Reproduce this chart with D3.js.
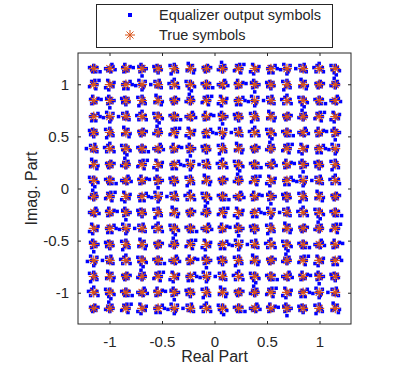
<!DOCTYPE html>
<html>
<head>
<meta charset="utf-8">
<title>Equalizer constellation</title>
<script src="https://cdn.jsdelivr.net/npm/d3@7"></script>
<style>
  body { margin: 0; background: #fff; }
  text { font-family: "Liberation Sans", Arial, sans-serif; fill: #262626; }
</style>
</head>
<body>
<div id="chart"></div>
<script>
// 256-QAM levels (unit average power)
var levels = [-1.150, -0.997, -0.844, -0.690, -0.537, -0.383, -0.230, -0.077,
              0.077, 0.230, 0.383, 0.537, 0.690, 0.844, 0.997, 1.150];
var tickValues = [-1, -0.5, 0, 0.5, 1];
var tickLabels = ["-1", "-0.5", "0", "0.5", "1"];
var seriesNames = ["Equalizer output symbols", "True symbols"];

// scatter of the equalizer output round each symbol, in hundredths
var noisePatterns = [
  [[-3,1],[2,-2],[1,3],[-1,-3],[4,1],[-2,-1],[0,2]],
  [[2,2],[-3,-2],[3,-1],[-1,3],[0,-4],[-4,2],[1,0]],
  [[-2,-2],[3,2],[-4,0],[1,-3],[2,4],[-1,1],[5,-1]],
  [[1,-1],[-2,3],[4,-3],[-3,-3],[0,5],[3,1],[-5,1]],
  [[-1,2],[2,-4],[-3,0],[4,3],[1,1],[-2,-4],[6,0]],
  [[3,0],[-2,2],[0,-3],[-4,-1],[2,3],[1,-1],[-1,6]],
  [[-4,3],[1,2],[3,-3],[-1,-2],[2,0],[-3,-5],[0,4]],
  [[2,-2],[-1,4],[-3,1],[4,2],[0,-2],[-2,-3],[7,1]],
  [[0,3],[-3,-1],[2,1],[-1,-4],[4,-2],[-4,3],[1,-6]],
  [[-2,0],[3,3],[1,-3],[-3,4],[2,-1],[0,-5],[-6,-1]],
  [[1,4],[-4,-2],[3,0],[-1,1],[2,-4],[-2,3],[5,4]],
  [[-3,-2],[2,3],[-1,-1],[4,-1],[0,2],[3,-4],[-2,5]],
  [[4,0],[-2,-3],[1,2],[-3,2],[2,-2],[-1,4],[0,-7]],
  [[-1,-3],[3,1],[-4,1],[0,3],[2,-3],[-2,-1],[6,-3]],
  [[2,1],[-3,3],[0,-2],[3,-3],[-2,-2],[1,4],[-7,0]],
  [[-2,4],[1,-1],[4,2],[-4,-3],[0,1],[3,-2],[-1,-5]]
];

var w = 411, h = 369;
var plotL = 78, plotR = 351, plotT = 53, plotB = 324;
var blue = "#0000ff", orange = "#d95319", axisColor = "#262626";

var x = d3.scaleLinear().domain([-1.3, 1.3]).range([plotL, plotR]);
var y = d3.scaleLinear().domain([-1.3, 1.3]).range([plotB, plotT]);

// build symbol tables
var trueSymbols = [];
var eqSymbols = [];
levels.forEach(function(re, i) {
  levels.forEach(function(im, j) {
    trueSymbols.push({re: re, im: im});
    var pat = noisePatterns[(i * 5 + j * 3) % noisePatterns.length];
    pat.forEach(function(o) {
      eqSymbols.push({re: re + o[0] / 100, im: im + o[1] / 100});
    });
  });
});

var svg = d3.select("#chart").append("svg")
  .attr("width", w).attr("height", h);

svg.append("rect").attr("width", w).attr("height", h).attr("fill", "#fff");

var plot = svg.append("g");

// equalizer output
plot.selectAll("rect.eq")
  .data(eqSymbols)
  .enter().append("rect")
  .attr("class", "eq")
  .attr("x", function(d) { return x(d.re) - 1.75; })
  .attr("y", function(d) { return y(d.im) - 1.75; })
  .attr("width", 3.5).attr("height", 3.5)
  .attr("fill", blue);

// true symbols as asterisks
var star = "M-5,0H5M0,-5V5M-3.5,-3.5L3.5,3.5M-3.5,3.5L3.5,-3.5";
plot.selectAll("path.tr")
  .data(trueSymbols)
  .enter().append("path")
  .attr("class", "tr")
  .attr("transform", function(d) { return "translate(" + x(d.re) + "," + y(d.im) + ")"; })
  .attr("d", star)
  .attr("stroke", orange)
  .attr("stroke-width", 1.1)
  .attr("fill", "none");

// axes with inward ticks on all four sides
function styleAxis(g) {
  g.select(".domain").remove();
  g.selectAll(".tick line").attr("stroke", axisColor);
  g.selectAll(".tick text").attr("fill", axisColor).style("font-size", "15px");
}
svg.append("g")
  .attr("transform", "translate(0," + plotB + ")")
  .call(d3.axisBottom(x).tickValues(tickValues).tickSizeInner(-3).tickPadding(12)
        .tickFormat(function(d, i) { return tickLabels[i]; }))
  .call(styleAxis);
svg.append("g")
  .attr("transform", "translate(0," + plotT + ")")
  .call(d3.axisTop(x).tickValues(tickValues).tickSizeInner(-3).tickFormat(""))
  .call(styleAxis);
svg.append("g")
  .attr("transform", "translate(" + plotL + ",0)")
  .call(d3.axisLeft(y).tickValues(tickValues).tickSizeInner(-3).tickPadding(9)
        .tickFormat(function(d, i) { return tickLabels[i]; }))
  .call(styleAxis);
svg.append("g")
  .attr("transform", "translate(" + plotR + ",0)")
  .call(d3.axisRight(y).tickValues(tickValues).tickSizeInner(-3).tickFormat(""))
  .call(styleAxis);

svg.append("rect")
  .attr("x", plotL).attr("y", plotT)
  .attr("width", plotR - plotL).attr("height", plotB - plotT)
  .attr("fill", "none").attr("stroke", axisColor).attr("stroke-width", 1);

// axis labels
svg.append("text")
  .attr("x", (plotL + plotR) / 2).attr("y", 362)
  .attr("text-anchor", "middle")
  .style("font-size", "16px")
  .text("Real Part");
svg.append("text")
  .attr("transform", "translate(37," + (plotT + plotB) / 2 + ") rotate(-90)")
  .attr("text-anchor", "middle")
  .style("font-size", "16px")
  .text("Imag. Part");

// legend
var lg = svg.append("g");
lg.append("rect")
  .attr("x", 96.5).attr("y", 4.5).attr("width", 236).attr("height", 43)
  .attr("fill", "#fff").attr("stroke", axisColor).attr("stroke-width", 1);
lg.append("rect")
  .attr("x", 128).attr("y", 13).attr("width", 4).attr("height", 4)
  .attr("fill", blue);
lg.append("path")
  .attr("transform", "translate(130,35)")
  .attr("d", star)
  .attr("stroke", orange).attr("fill", "none");
lg.selectAll("text.lab")
  .data(seriesNames)
  .enter().append("text")
  .attr("class", "lab")
  .attr("x", 159)
  .attr("y", function(d, i) { return 20 + i * 20; })
  .style("font-size", "14.5px")
  .text(function(d) { return d; });
</script>
</body>
</html>
